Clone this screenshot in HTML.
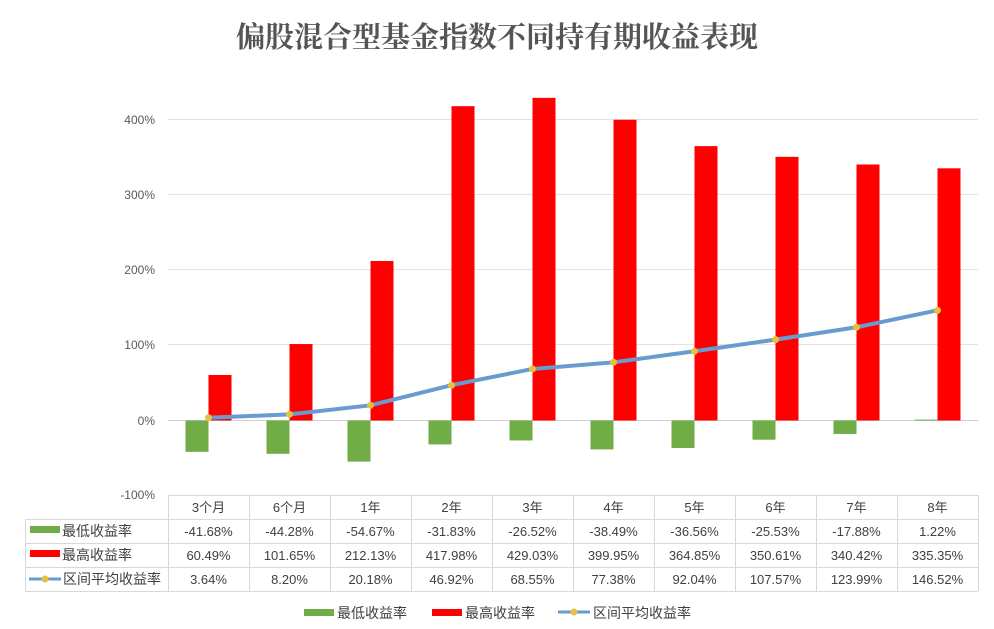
<!DOCTYPE html>
<html><head><meta charset="utf-8"><style>
body{margin:0;background:#fff;}
svg{display:block;font-family:"Liberation Sans","Noto Sans CJK SC",sans-serif;}
</style></head><body>
<svg width="994" height="629" viewBox="0 0 994 629" xmlns="http://www.w3.org/2000/svg">
<text x="497" y="47" text-anchor="middle" font-family="'Liberation Serif','Noto Serif CJK SC',serif" font-weight="bold" font-size="29" fill="#555">偏股混合型基金指数不同持有期收益表现</text>
<g stroke="#e3e3e3" stroke-width="1">
<line x1="168" y1="119.5" x2="978" y2="119.5"/>
<line x1="168" y1="194.5" x2="978" y2="194.5"/>
<line x1="168" y1="269.5" x2="978" y2="269.5"/>
<line x1="168" y1="344.5" x2="978" y2="344.5"/>
<line x1="168" y1="420.5" x2="978" y2="420.5" stroke="#d0d0d0"/>
</g>
<g font-size="12" fill="#595959" text-anchor="end">
<text x="155" y="124">400%</text><text x="155" y="199">300%</text><text x="155" y="274">200%</text><text x="155" y="349">100%</text><text x="155" y="425">0%</text><text x="155" y="499">-100%</text>
</g>
<g fill="#70ad47">
<rect x="185.5" y="420.5" width="23" height="31.34"/>
<rect x="266.5" y="420.5" width="23" height="33.30"/>
<rect x="347.5" y="420.5" width="23" height="41.11"/>
<rect x="428.5" y="420.5" width="23" height="23.94"/>
<rect x="509.5" y="420.5" width="23" height="19.94"/>
<rect x="590.5" y="420.5" width="23" height="28.94"/>
<rect x="671.5" y="420.5" width="23" height="27.49"/>
<rect x="752.5" y="420.5" width="23" height="19.20"/>
<rect x="833.5" y="420.5" width="23" height="13.45"/>
<rect x="914.5" y="419.58" width="23" height="0.92"/>
</g>
<g fill="#ff0000">
<rect x="208.5" y="375.0" width="23" height="45.5"/>
<rect x="289.5" y="344.06" width="23" height="76.44"/>
<rect x="370.5" y="260.98" width="23" height="159.52"/>
<rect x="451.5" y="106.18" width="23" height="314.32"/>
<rect x="532.5" y="97.87" width="23" height="322.63"/>
<rect x="613.5" y="119.74" width="23" height="300.76"/>
<rect x="694.5" y="146.13" width="23" height="274.37"/>
<rect x="775.5" y="156.84" width="23" height="263.66"/>
<rect x="856.5" y="164.5" width="23" height="256.0"/>
<rect x="937.5" y="168.32" width="23" height="252.18"/>
</g>
<polyline fill="none" stroke="#6a9bcf" stroke-width="4" stroke-linejoin="round" points="208.5,417.76 289.5,414.33 370.5,405.32 451.5,385.22 532.5,368.95 613.5,362.31 694.5,351.29 775.5,339.61 856.5,327.26 937.5,310.32"/>
<g fill="#e8c040">
<circle cx="208.5" cy="417.76" r="3.5"/><circle cx="289.5" cy="414.33" r="3.5"/><circle cx="370.5" cy="405.32" r="3.5"/><circle cx="451.5" cy="385.22" r="3.5"/><circle cx="532.5" cy="368.95" r="3.5"/><circle cx="613.5" cy="362.31" r="3.5"/><circle cx="694.5" cy="351.29" r="3.5"/><circle cx="775.5" cy="339.61" r="3.5"/><circle cx="856.5" cy="327.26" r="3.5"/><circle cx="937.5" cy="310.32" r="3.5"/>
</g>
<g stroke="#d9d9d9" stroke-width="1" fill="none">
<line x1="168.5" y1="495" x2="168.5" y2="591"/><line x1="249.5" y1="495" x2="249.5" y2="591"/><line x1="330.5" y1="495" x2="330.5" y2="591"/><line x1="411.5" y1="495" x2="411.5" y2="591"/><line x1="492.5" y1="495" x2="492.5" y2="591"/><line x1="573.5" y1="495" x2="573.5" y2="591"/><line x1="654.5" y1="495" x2="654.5" y2="591"/><line x1="735.5" y1="495" x2="735.5" y2="591"/><line x1="816.5" y1="495" x2="816.5" y2="591"/><line x1="897.5" y1="495" x2="897.5" y2="591"/><line x1="978.5" y1="495" x2="978.5" y2="591"/>
<line x1="168" y1="495.5" x2="978" y2="495.5"/><line x1="25" y1="519.5" x2="978" y2="519.5"/><line x1="25" y1="543.5" x2="978" y2="543.5"/><line x1="25" y1="567.5" x2="978" y2="567.5"/><line x1="25" y1="591.5" x2="978" y2="591.5"/><line x1="25.5" y1="519" x2="25.5" y2="591"/>
</g>
<g font-size="13" fill="#404040" text-anchor="middle">
<text x="208.5" y="512">3个月</text><text x="289.5" y="512">6个月</text><text x="370.5" y="512">1年</text><text x="451.5" y="512">2年</text><text x="532.5" y="512">3年</text><text x="613.5" y="512">4年</text><text x="694.5" y="512">5年</text><text x="775.5" y="512">6年</text><text x="856.5" y="512">7年</text><text x="937.5" y="512">8年</text>
<text x="208.5" y="536">-41.68%</text><text x="289.5" y="536">-44.28%</text><text x="370.5" y="536">-54.67%</text><text x="451.5" y="536">-31.83%</text><text x="532.5" y="536">-26.52%</text><text x="613.5" y="536">-38.49%</text><text x="694.5" y="536">-36.56%</text><text x="775.5" y="536">-25.53%</text><text x="856.5" y="536">-17.88%</text><text x="937.5" y="536">1.22%</text>
<text x="208.5" y="560">60.49%</text><text x="289.5" y="560">101.65%</text><text x="370.5" y="560">212.13%</text><text x="451.5" y="560">417.98%</text><text x="532.5" y="560">429.03%</text><text x="613.5" y="560">399.95%</text><text x="694.5" y="560">364.85%</text><text x="775.5" y="560">350.61%</text><text x="856.5" y="560">340.42%</text><text x="937.5" y="560">335.35%</text>
<text x="208.5" y="584">3.64%</text><text x="289.5" y="584">8.20%</text><text x="370.5" y="584">20.18%</text><text x="451.5" y="584">46.92%</text><text x="532.5" y="584">68.55%</text><text x="613.5" y="584">77.38%</text><text x="694.5" y="584">92.04%</text><text x="775.5" y="584">107.57%</text><text x="856.5" y="584">123.99%</text><text x="937.5" y="584">146.52%</text>
</g>
<g font-size="14" fill="#404040">
<rect x="30" y="526" width="30" height="7" fill="#70ad47"/><text x="62" y="536">最低收益率</text>
<rect x="30" y="550" width="30" height="7" fill="#ff0000"/><text x="62" y="560">最高收益率</text>
<line x1="29" y1="579" x2="61" y2="579" stroke="#6a9bcf" stroke-width="3"/><circle cx="45" cy="579" r="3.5" fill="#e8c040"/><text x="63" y="584">区间平均收益率</text>
</g>
<g font-size="14" fill="#404040">
<rect x="304" y="609" width="30" height="7" fill="#70ad47"/><text x="337" y="618">最低收益率</text>
<rect x="432" y="609" width="30" height="7" fill="#ff0000"/><text x="465" y="618">最高收益率</text>
<line x1="558" y1="612" x2="590" y2="612" stroke="#6a9bcf" stroke-width="3"/><circle cx="574" cy="612" r="3.5" fill="#e8c040"/><text x="593" y="618">区间平均收益率</text>
</g>
</svg>
</body></html>
